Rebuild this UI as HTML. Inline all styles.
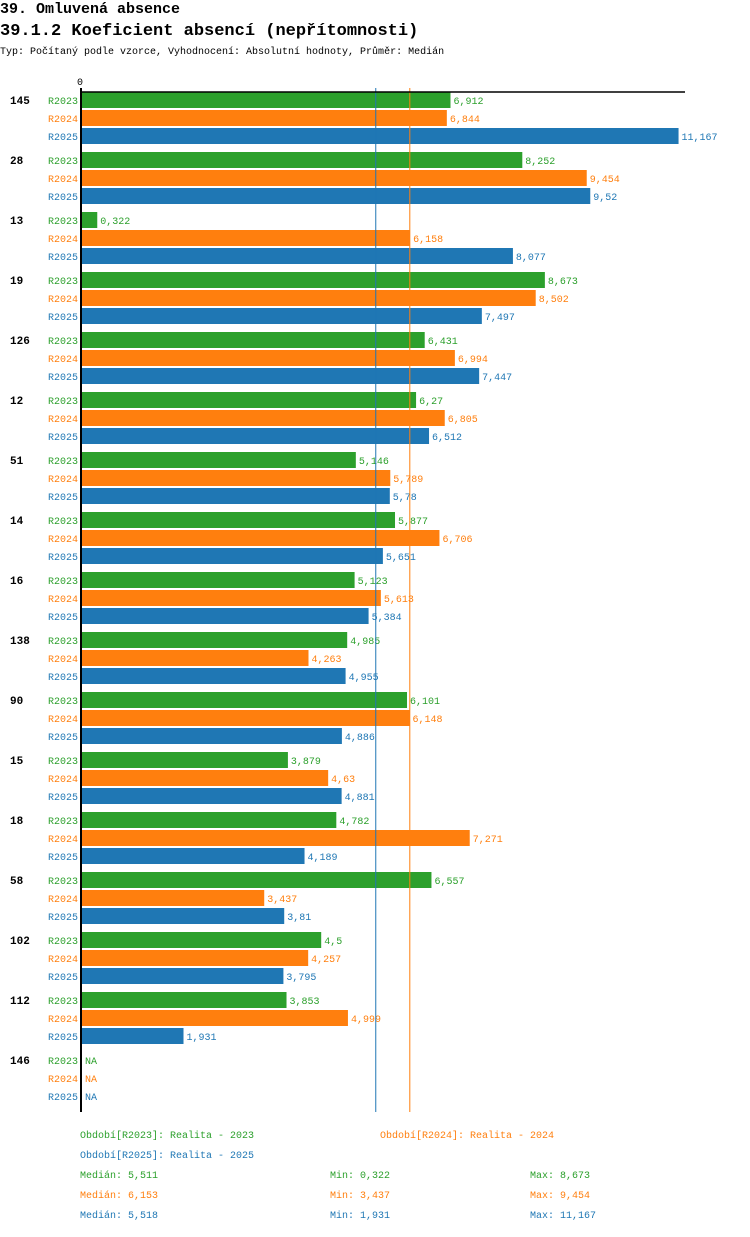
<!DOCTYPE html>
<html><head><meta charset="utf-8"><style>
body{margin:0;background:#fff;width:750px;height:1232px;overflow:hidden;font-family:"Liberation Mono",monospace}
</style></head><body>
<svg width="750" height="1232" xmlns="http://www.w3.org/2000/svg" font-family="Liberation Mono, monospace">
<text x="0" y="13" font-size="15" font-weight="bold">39. Omluvená absence</text>
<text x="0" y="35" font-size="17" font-weight="bold">39.1.2 Koeficient absencí (nepřítomnosti)</text>
<text x="0" y="54" font-size="10">Typ: Počítaný podle vzorce, Vyhodnocení: Absolutní hodnoty, Průměr: Medián</text>
<g id="plot"></g>
</svg>
<script>
const groups=["145","28","13","19","126","12","51","14","16","138","90","15","18","58","102","112","146"];
const series=["R2023","R2024","R2025"];
const v2023=[6.912,8.252,0.322,8.673,6.431,6.27,5.146,5.877,5.123,4.985,6.101,3.879,4.782,6.557,4.5,3.853,null];
const v2024=[6.844,9.454,6.158,8.502,6.994,6.805,5.789,6.706,5.613,4.263,6.148,4.63,7.271,3.437,4.257,4.999,null];
const v2025=[11.167,9.52,8.077,7.497,7.447,6.512,5.78,5.651,5.384,4.955,4.886,4.881,4.189,3.81,3.795,1.931,null];
const medians=[5.511,6.153,5.518];
const mins=[0.322,3.437,1.931];
const maxs=[8.673,9.454,11.167];
const colors=["#2ca02c","#ff7f0e","#1f77b4"];
const vals=[v2023,v2024,v2025];
const NS="http://www.w3.org/2000/svg";
const g=document.getElementById('plot');
const x0=80,k=53.6;
const xs=v=>x0+v*k;
const gy=i=>92+i*60;
const fmt=v=>String(v).replace('.',',');
function el(t,a,txt){const e=document.createElementNS(NS,t);for(const n in a)e.setAttribute(n,a[n]);if(txt!==undefined)e.textContent=txt;g.appendChild(e);return e;}
const endY=gy(groups.length);
let t=el('text',{x:80,y:85,'font-size':10,'text-anchor':'middle'},'0');


groups.forEach((gr,i)=>{
  let l=el('text',{x:10,y:gy(i)+12,'font-size':11,'font-weight':'bold'},gr);
  
  
  series.forEach((s,j)=>{
    const y=gy(i)+j*18;const v=vals[j][i];
    let sl=el('text',{x:78,y:y+12,'font-size':10,'text-anchor':'end',fill:colors[j]},s);
    
    
    if(v!==null){
      let r=el('rect',{x:x0,y:y,width:v*k,height:16,fill:colors[j]});
      
      
    }
    let vl=el('text',{x:(v===null?x0+2:xs(v))+3,y:y+12,'font-size':10,fill:colors[j]},v===null?'NA':fmt(v));
    
    
  });
});
medians.forEach((m,j)=>{if(j===0)return;
  let ln=el('line',{x1:xs(m),x2:xs(m),y1:88,y2:endY,stroke:colors[j],'stroke-width':1});
  
  
});
let ax=el('line',{x1:80,x2:685,y1:92,y2:92,stroke:'#000','stroke-width':1.5});


let ay=el('line',{x1:81,x2:81,y1:88,y2:endY,stroke:'#000','stroke-width':2});


const leg=[[80,1138,0,'Období[R2023]: Realita - 2023'],[380,1138,1,'Období[R2024]: Realita - 2024'],[80,1158,2,'Období[R2025]: Realita - 2025']];
leg.forEach(a=>{let e=el('text',{x:a[0],y:a[1],'font-size':10,fill:colors[a[2]]},a[3]);
  
  });
[0,1,2].forEach(j=>{const y=1178+j*20;
  let a=el('text',{x:80,y:y,'font-size':10,fill:colors[j]},'Medián: '+fmt(medians[j]));
  
  
  let b=el('text',{x:330,y:y,'font-size':10,fill:colors[j]},'Min: '+fmt(mins[j]));
  
  
  let c=el('text',{x:530,y:y,'font-size':10,fill:colors[j]},'Max: '+fmt(maxs[j]));
  
  
});
</script>
</body></html>
